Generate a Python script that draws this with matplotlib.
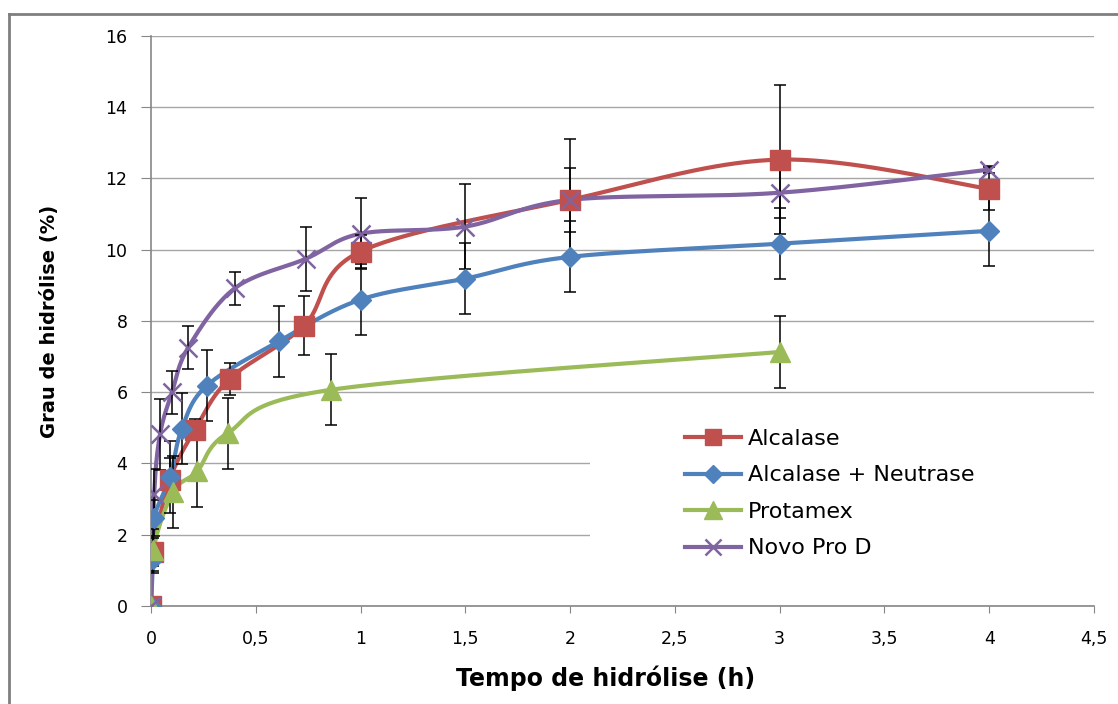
import numpy as np
import matplotlib
matplotlib.use("Agg")
import matplotlib.pyplot as plt
from matplotlib.lines import Line2D
from matplotlib.patches import Rectangle

# dados (tempo em h, grau de hidrolise em %)
alc_t = [0, 0.01, 0.09, 0.21, 0.375, 0.73, 1.0, 2.0, 3.0, 4.0]
alc_gh = [0, 1.52, 3.55, 4.95, 6.38, 7.87, 9.95, 11.4, 12.53, 11.71]
alc_err = [0, 0.4, 0.6, 0.3, 0.45, 0.82, 0.45, 1.7, 2.1, 0.6]

neu_t = [0, 0.01, 0.015, 0.09, 0.147, 0.265, 0.61, 1.0, 1.5, 2.0, 3.0, 4.0]
neu_gh = [0, 1.32, 2.47, 3.62, 4.98, 6.18, 7.43, 8.6, 9.19, 9.8, 10.17, 10.53]
neu_err = [0, 0.4, 0.5, 1.0, 1.0, 1.0, 1.0, 1.0, 1.0, 1.0, 1.0, 1.0]

pro_t = [0, 0.01, 0.105, 0.22, 0.365, 0.86, 3.0]
pro_gh = [0, 1.57, 3.2, 3.78, 4.85, 6.07, 7.13]
pro_err = [0, 0.6, 1.0, 1.0, 1.0, 1.0, 1.0]

nov_t = [0, 0.015, 0.043, 0.1, 0.177, 0.4, 0.74, 1.0, 1.5, 2.0, 3.0, 4.0]
nov_gh = [0, 3.15, 4.82, 6.0, 7.25, 8.92, 9.75, 10.45, 10.65, 11.4, 11.6, 12.25]
nov_err = [0, 0.7, 1.0, 0.6, 0.6, 0.46, 0.9, 1.0, 1.2, 0.9, 0.7, 0.1]

nomes = ["Alcalase", "Alcalase + Neutrase", "Protamex", "Novo Pro D"]
xticks = [0, 0.5, 1, 1.5, 2, 2.5, 3, 3.5, 4, 4.5]
xtick_labels = ["0", "0,5", "1", "1,5", "2", "2,5", "3", "3,5", "4", "4,5"]
yticks = [0, 2, 4, 6, 8, 10, 12, 14, 16]

XMAX, YMAX = 4.5, 16.0
W_PX, H_PX = 943.0, 570.0


def excel_smooth(xs, ys, n=40):
    # curva suavizada tipo excel (bezier 1/6), calculada em pixels
    P = np.column_stack([np.array(xs) / XMAX * W_PX, np.array(ys) / YMAX * H_PX])
    m = len(P)
    out = [P[0]]
    t = np.linspace(0, 1, n)[1:, None]
    for i in range(m - 1):
        p0 = P[i - 1] if i > 0 else P[i]
        p3 = P[i + 2] if i + 2 < m else P[i + 1]
        c1 = P[i] + (P[i + 1] - p0) / 6
        c2 = P[i + 1] - (p3 - P[i]) / 6
        seg = ((1 - t) ** 3) * P[i] + 3 * (1 - t) ** 2 * t * c1 + 3 * (1 - t) * t ** 2 * c2 + t ** 3 * P[i + 1]
        out.extend(seg)
    out = np.array(out)
    return out[:, 0] / W_PX * XMAX, out[:, 1] / H_PX * YMAX


fig = plt.figure(figsize=(11.18, 7.04), dpi=100)
ax = fig.add_axes([0.1351, 0.1392, 0.8434, 0.8097])

series = [
    (alc_t, alc_gh, alc_err, "#C0504D", "s", 14, 1),
    (neu_t, neu_gh, neu_err, "#4F81BD", "D", 10.5, 1),
    (pro_t, pro_gh, pro_err, "#9BBB59", "^", 15, 1),
    (nov_t, nov_gh, nov_err, "#8064A2", "x", 13, 1.8),
]

handles = []
for (t, g, e, c, mk, ms, mew), nome in zip(series, nomes):
    sx, sy = excel_smooth(t, g)
    ax.plot(sx, sy, color=c, lw=3, zorder=2, solid_capstyle="round")
    ax.errorbar(t, g, yerr=e, fmt="none", ecolor="black", elinewidth=1.1,
                capsize=4.5, capthick=1.1, zorder=3)
    ax.plot(t, g, ls="none", marker=mk, ms=ms, color=c, mec=c, mew=mew, zorder=4)
    handles.append(Line2D([], [], color=c, lw=3, marker=mk, ms=ms * 0.85, mec=c, mew=mew))

ax.set_xlim(0, XMAX)
ax.set_ylim(0, YMAX)
ax.set_xticks(xticks)
ax.set_xticklabels(xtick_labels)
ax.set_yticks(yticks)

ax.set_axisbelow(True)
ax.yaxis.grid(True, color="#A6A6A6", lw=1.0)
ax.xaxis.grid(False)
for s in ["top", "right"]:
    ax.spines[s].set_visible(False)
for s in ["left", "bottom"]:
    ax.spines[s].set_color("#868686")
    ax.spines[s].set_linewidth(1.2)
ax.tick_params(axis="y", direction="out", length=7, color="#868686", labelsize=12.5, pad=10)
ax.tick_params(axis="x", direction="out", length=5, color="#868686", labelsize=12.5, pad=12)

ax.set_xlabel("Tempo de hidrólise (h)", fontsize=17, fontweight="bold")
ax.set_ylabel("Grau de hidrólise (%)", fontsize=14, fontweight="bold")
ax.xaxis.set_label_coords(0.4825, -0.105)
ax.yaxis.set_label_coords(-0.098, 0.5)

# fundo branco da legenda (tapa as linhas de grade)
ax.add_patch(Rectangle((0.4655, 0.045), 0.54, 0.29, transform=ax.transAxes,
                       fc="white", ec="none", zorder=1))
leg = ax.legend(handles, nomes, loc="upper left", bbox_to_anchor=(0.555, 0.33),
                frameon=False, fontsize=16, handlelength=2.5, handletextpad=0.3,
                labelspacing=0.74, borderpad=0)

# moldura da figura
fig.add_artist(Line2D([9 / 1118, 9 / 1118], [0, 1 - 14 / 704], transform=fig.transFigure,
                      color="#7F7F7F", lw=2))
fig.add_artist(Line2D([9 / 1118, 1], [1 - 14 / 704, 1 - 14 / 704], transform=fig.transFigure,
                      color="#7F7F7F", lw=2))

fig.savefig("out.png", dpi=100)
